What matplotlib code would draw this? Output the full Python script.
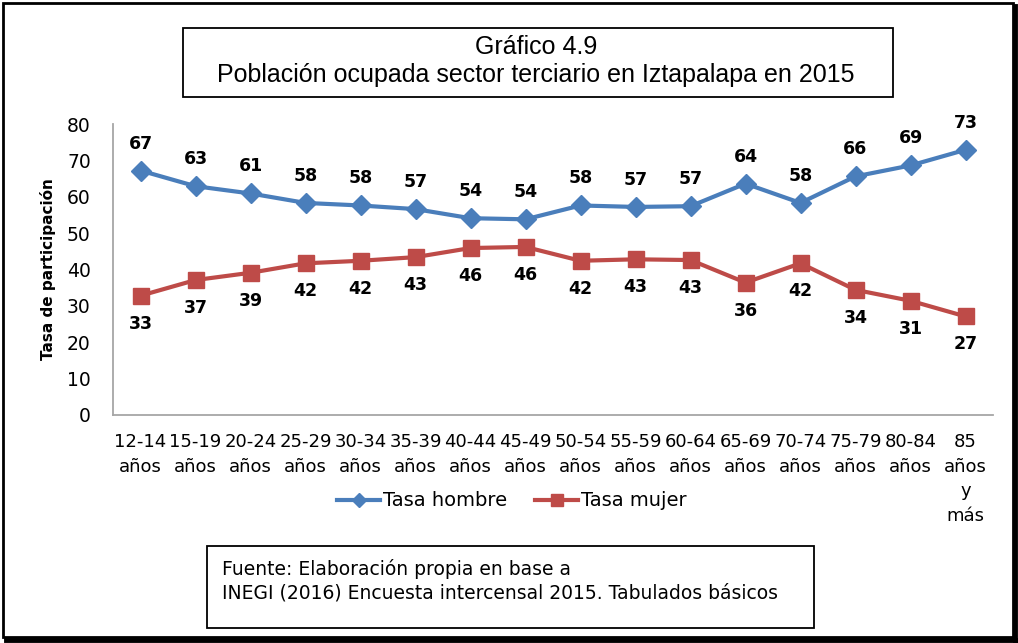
import matplotlib
matplotlib.use("Agg")
import matplotlib.pyplot as plt
from matplotlib.patches import Rectangle
from matplotlib.lines import Line2D

# Grupos de edad y tasas de participación (%)
grupos = ["12-14\naños", "15-19\naños", "20-24\naños", "25-29\naños",
          "30-34\naños", "35-39\naños", "40-44\naños", "45-49\naños",
          "50-54\naños", "55-59\naños", "60-64\naños", "65-69\naños",
          "70-74\naños", "75-79\naños", "80-84\naños", "85\naños\ny\nmás"]
tasa_hombre = [67.2, 62.9, 60.9, 58.3, 57.6, 56.6, 54.1, 53.8,
               57.6, 57.2, 57.4, 63.6, 58.3, 65.6, 68.6, 72.9]
tasa_mujer = [32.8, 37.1, 39.1, 41.7, 42.4, 43.4, 45.9, 46.2,
              42.4, 42.8, 42.6, 36.4, 41.7, 34.4, 31.4, 27.1]
yticks = [0, 10, 20, 30, 40, 50, 60, 70, 80]

titulo = "Gráfico 4.9\nPoblación ocupada sector terciario en Iztapalapa en 2015"
fuente = ("Fuente: Elaboración propia en base a\n"
          "INEGI (2016) Encuesta intercensal 2015. Tabulados básicos")

AZUL = "#4A7EBB"
ROJO = "#BE4B48"

W, H = 1018, 643
plt.rcParams["font.family"] = "DejaVu Sans"

fig = plt.figure(figsize=(W / 100, H / 100), dpi=100)
fig.patch.set_facecolor("white")


def fx(px):
    return px / W


def fy(py):
    return 1 - py / H


# marco exterior con sombra a la derecha y abajo
fig.add_artist(Rectangle((fx(3), fy(637)), fx(1010), 634 / H, transform=fig.transFigure,
                         fill=False, edgecolor="black", lw=2))
fig.add_artist(Line2D([fx(1015), fx(1015)], [fy(6), fy(640)], transform=fig.transFigure,
                      color="black", lw=3.5))
fig.add_artist(Line2D([fx(6), fx(1016)], [fy(639.5), fy(639.5)], transform=fig.transFigure,
                      color="black", lw=3.5))

# recuadro del título
fig.add_artist(Rectangle((fx(183), fy(97)), fx(893 - 183), 69 / H, transform=fig.transFigure,
                         fill=False, edgecolor="black", lw=1.3))
fig.text(fx(536), fy(61), titulo, ha="center", va="center", fontsize=18,
         family="Liberation Sans", linespacing=1.17)

ax = fig.add_axes([fx(113), fy(415), fx(993 - 113), (415 - 124) / H])
x = list(range(len(grupos)))

ax.plot(x, tasa_hombre, color=AZUL, lw=3, marker="D", markersize=10,
        label="Tasa hombre", clip_on=False, zorder=3)
ax.plot(x, tasa_mujer, color=ROJO, lw=3, marker="s", markersize=12,
        label="Tasa mujer", clip_on=False, zorder=3)

for i in x:
    ax.annotate(f"{tasa_hombre[i]:.0f}", (i, tasa_hombre[i]), xytext=(0, 27),
                textcoords="offset pixels", ha="center", va="center",
                fontsize=12.5, fontweight="bold")
    ax.annotate(f"{tasa_mujer[i]:.0f}", (i, tasa_mujer[i]), xytext=(0, -28),
                textcoords="offset pixels", ha="center", va="center",
                fontsize=12.5, fontweight="bold")

ax.set_xlim(-0.5, len(grupos) - 0.5)
ax.set_ylim(0, 80)
ax.set_yticks(yticks)
ax.set_xticks(x)
ax.set_xticklabels(grupos, fontsize=13, linespacing=1.47, va="top")
ax.tick_params(axis="y", length=0, pad=16, labelsize=13.5)
ax.tick_params(axis="x", length=0, pad=13)
for lado in ["top", "right"]:
    ax.spines[lado].set_visible(False)
for lado in ["left", "bottom"]:
    ax.spines[lado].set_color("#A6A6A6")
    ax.spines[lado].set_linewidth(1.3)
ax.set_ylabel("Tasa de participación", fontsize=11, fontweight="bold", labelpad=8)

fig.legend(loc="center", bbox_to_anchor=(fx(512), fy(501)), ncol=2, frameon=False,
           fontsize=14, handlelength=2.2, columnspacing=1.45, handletextpad=0.15,
           markerscale=0.75)

# recuadro de la fuente
fig.add_artist(Rectangle((fx(207), fy(628)), fx(814 - 207), 82 / H, transform=fig.transFigure,
                         fill=False, edgecolor="black", lw=1.3))
fig.text(fx(222), fy(581), fuente, ha="left", va="center", fontsize=13.5,
         linespacing=1.33)

fig.savefig("out.png", dpi=100)
